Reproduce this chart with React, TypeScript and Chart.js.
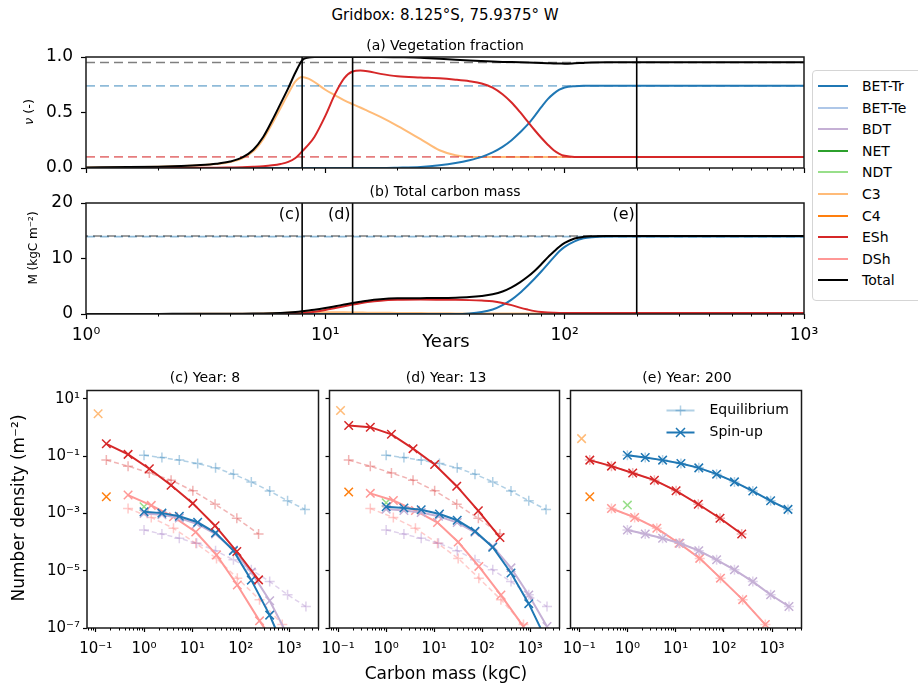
import React, { useEffect, useRef } from 'react';
import { Chart, registerables } from 'chart.js';

Chart.register(...registerables);

const FONT = "'DejaVu Sans', 'Liberation Sans', sans-serif";

// ---------------- PFT legend ----------------
const PFT_NAMES = ['BET-Tr', 'BET-Te', 'BDT', 'NET', 'NDT', 'C3', 'C4', 'ESh', 'DSh', 'Total'];
const PFT_COLORS = ['#1f77b4', '#aec7e8', '#c5b0d5', '#2ca02c', '#98df8a', '#ffbb78', '#ff7f0e', '#d62728', '#ff9896', '#000000'];
const C_BETTR = '#1f77b4';
const C_BDT = '#c5b0d5';
const C_NDT = '#98df8a';
const C_C3 = '#ffbb78';
const C_C4 = '#ff7f0e';
const C_ESH = '#d62728';
const C_DSH = '#ff9896';
const C_TOTAL = '#000000';

// ---------------- Panels (a), (b): time series ----------------
const YEARS = [1, 1.5, 2, 2.5, 3, 3.5, 4, 4.5, 5, 5.5, 6, 6.5, 7, 7.5, 8, 8.5, 9, 10, 11, 12, 13, 14, 15, 17, 20, 25, 30, 35, 40, 45, 50, 55, 60, 65, 70, 75, 80, 85, 90, 95, 100, 110, 120, 130, 150, 200, 300, 500, 1000];

const VEG_TOTAL = [0.005, 0.008, 0.012, 0.018, 0.026, 0.038, 0.058, 0.095, 0.165, 0.28, 0.43, 0.58, 0.72, 0.86, 0.97, 0.995, 1.0, 1.0, 1.0, 1.0, 1.0, 1.0, 1.0, 1.0, 0.998, 0.994, 0.985, 0.975, 0.968, 0.963, 0.959, 0.956, 0.954, 0.952, 0.95, 0.948, 0.946, 0.944, 0.942, 0.941, 0.94, 0.943, 0.947, 0.95, 0.952, 0.952, 0.952, 0.952, 0.952];
const VEG_C3 = [0.004, 0.007, 0.011, 0.017, 0.024, 0.035, 0.053, 0.088, 0.15, 0.26, 0.4, 0.54, 0.67, 0.78, 0.82, 0.805, 0.775, 0.705, 0.655, 0.61, 0.575, 0.545, 0.515, 0.46, 0.38, 0.26, 0.16, 0.115, 0.1, 0.1, 0.1, 0.1, 0.1, 0.1, 0.1, 0.1, 0.1, 0.1, 0.1, 0.1, 0.1, 0.1, 0.1, 0.1, 0.1, 0.1, 0.1, 0.1, 0.1];
const VEG_ESH = [0, 0, 0.001, 0.001, 0.002, 0.003, 0.005, 0.007, 0.011, 0.016, 0.024, 0.036, 0.055, 0.09, 0.15, 0.21, 0.28, 0.47, 0.67, 0.81, 0.87, 0.878, 0.872, 0.848, 0.826, 0.815, 0.808, 0.796, 0.782, 0.762, 0.725, 0.665, 0.59, 0.505, 0.42, 0.34, 0.27, 0.21, 0.16, 0.128, 0.11, 0.1, 0.1, 0.1, 0.1, 0.1, 0.1, 0.1, 0.1];
const VEG_BETTR = [0, 0, 0, 0, 0, 0, 0, 0, 0, 0, 0, 0, 0, 0, 0, 0, 0, 0, 0, 0, 0, 0, 0, 0, 0.003, 0.01, 0.025, 0.045, 0.07, 0.1, 0.14, 0.19, 0.25, 0.32, 0.39, 0.47, 0.55, 0.62, 0.67, 0.705, 0.725, 0.737, 0.74, 0.74, 0.74, 0.74, 0.74, 0.74, 0.74];
const EQ_VEG = [0.95, 0.74, 0.1]; // Total, BET-Tr, ESh equilibrium

const MASS_TOTAL = [0.02, 0.02, 0.02, 0.025, 0.03, 0.035, 0.04, 0.05, 0.07, 0.1, 0.14, 0.2, 0.28, 0.38, 0.5, 0.63, 0.77, 1.08, 1.4, 1.7, 1.97, 2.2, 2.4, 2.65, 2.82, 2.86, 2.88, 2.94, 3.05, 3.25, 3.55, 4.05, 4.8, 5.7, 6.7, 7.8, 9.0, 10.2, 11.2, 12.1, 12.8, 13.6, 13.9, 14.0, 14.05, 14.05, 14.05, 14.05, 14.05];
const MASS_BETTR = [0, 0, 0, 0, 0, 0, 0, 0, 0, 0, 0, 0, 0, 0, 0, 0, 0, 0, 0, 0, 0, 0, 0, 0, 0, 0, 0, 0, 0.1, 0.35, 0.8, 1.6, 2.6, 3.8, 5.1, 6.4, 7.7, 9.0, 10.2, 11.3, 12.1, 13.1, 13.65, 13.85, 13.95, 13.95, 13.95, 13.95, 13.95];
const MASS_ESH = [0, 0, 0, 0, 0, 0.002, 0.003, 0.004, 0.006, 0.009, 0.014, 0.024, 0.045, 0.085, 0.15, 0.26, 0.4, 0.72, 1.07, 1.4, 1.7, 1.95, 2.15, 2.4, 2.55, 2.6, 2.58, 2.55, 2.5, 2.42, 2.3, 2.0, 1.6, 1.15, 0.8, 0.52, 0.35, 0.26, 0.22, 0.2, 0.2, 0.2, 0.2, 0.2, 0.2, 0.2, 0.2, 0.2, 0.2];
const MASS_C3 = [0.015, 0.017, 0.019, 0.022, 0.025, 0.03, 0.035, 0.045, 0.06, 0.085, 0.12, 0.17, 0.22, 0.28, 0.32, 0.33, 0.33, 0.33, 0.32, 0.3, 0.28, 0.26, 0.24, 0.22, 0.2, 0.16, 0.12, 0.11, 0.1, 0.1, 0.1, 0.1, 0.1, 0.1, 0.1, 0.1, 0.1, 0.1, 0.1, 0.1, 0.1, 0.1, 0.1, 0.1, 0.1, 0.1, 0.1, 0.1, 0.1];
const EQ_MASS = [14.05, 13.95]; // Total, BET-Tr equilibrium

const MARK_YEARS = [8, 13, 200];
const MARK_LABELS = ['(c)', '(d)', '(e)'];

const YEAR_RANGE = [1, 1000];
const VEG_RANGE = [0, 1];
const MASSC_RANGE = [0, 20];
const YEAR_TICKS = [1, 10, 100, 1000];
const YEAR_TICK_LABELS = ['10⁰', '10¹', '10²', '10³'];
const VEG_TICKS = [0, 0.5, 1];
const VEG_TICK_LABELS = ['0.0', '0.5', '1.0'];
const MASSC_TICKS = [0, 10, 20];
const MASSC_TICK_LABELS = ['0', '10', '20'];

// ---------------- Panels (c), (d), (e): size distributions (log10 values) ----------------
const M_BETTR_LOG = [0, 0.37, 0.73, 1.11, 1.48, 1.85, 2.22, 2.6, 2.97, 3.33];
const M_BDT_LOG = [0, 0.37, 0.73, 1.09, 1.48, 1.85, 2.22, 2.6, 2.97, 3.35];
const M_ESH_LOG = [-0.78, -0.33, 0.11, 0.56, 1.01, 1.47, 1.92, 2.37];
const M_DSH_LOG = [-0.33, 0.15, 0.61, 1.07, 1.5, 1.93, 2.39, 2.86];
const M_C3_LOG = [-0.95];
const M_C4_LOG = [-0.78];
const M_NDT_LOG = [0];

const EQ_BETTR_LOG = [-0.97, -1.05, -1.14, -1.26, -1.41, -1.63, -1.9, -2.22, -2.56, -2.86];
const EQ_ESH_LOG = [-1.14, -1.35, -1.59, -1.84, -2.21, -2.68, -3.17, -3.72];
const EQ_DSH_LOG = [-2.83, -3.14, -3.52, -4.04, -4.57, -5.26, -6.01, -6.88];
const EQ_BDT_LOG = [-3.58, -3.72, -3.87, -4.04, -4.3, -4.62, -4.97, -5.38, -5.84, -6.25];

const Y8_ESH_LOG = [-0.57, -0.94, -1.44, -2.02, -2.65, -3.43, -4.33, -5.32];
const Y8_BETTR_LOG = [-2.94, -2.99, -3.1, -3.31, -3.68, -4.3, -5.33, -6.55, -8.0];
const Y8_BDT_LOG = [-3.0, -3.05, -3.16, -3.36, -3.72, -4.28, -5.05, -6.05, -7.25];
const Y8_DSH_LOG = [-2.36, -2.72, -3.12, -3.65, -4.45, -5.5, -6.75, -7.9];
const Y8_C3_LOG = [0.48];
const Y8_C4_LOG = [-2.42];
const Y8_NDT_LOG = [-2.77];

const Y13_ESH_LOG = [0.07, 0.01, -0.24, -0.74, -1.29, -2.05, -2.91, -3.84];
const Y13_BETTR_LOG = [-2.77, -2.81, -2.87, -3.02, -3.24, -3.62, -4.18, -5.08, -6.15, -7.4];
const Y13_BDT_LOG = [-2.85, -2.9, -2.97, -3.1, -3.32, -3.66, -4.15, -4.9, -5.85, -6.95];
const Y13_DSH_LOG = [-2.3, -2.55, -2.9, -3.32, -4.0, -4.85, -5.85, -6.95];
const Y13_C3_LOG = [0.59];
const Y13_C4_LOG = [-2.25];
const Y13_NDT_LOG = [-2.63];

const Y200_ESH_LOG = [-1.14, -1.35, -1.59, -1.84, -2.21, -2.68, -3.17, -3.72];
const Y200_BETTR_LOG = [-0.97, -1.05, -1.14, -1.26, -1.41, -1.63, -1.9, -2.22, -2.56, -2.86];
const Y200_BDT_LOG = [-3.58, -3.72, -3.87, -4.04, -4.3, -4.62, -4.97, -5.38, -5.84, -6.25];
const Y200_DSH_LOG = [-2.83, -3.14, -3.52, -4.04, -4.57, -5.26, -6.01, -6.88];
const Y200_C3_LOG = [-0.39];
const Y200_C4_LOG = [-2.42];
const Y200_NDT_LOG = [-2.71];

const CMASS_RANGE = [0.0661, 4074];
const DENS_RANGE = [1e-7, 19.5];
const CMASS_TICKS = [0.1, 1, 10, 100, 1000];
const CMASS_TICK_LABELS = ['10⁻¹', '10⁰', '10¹', '10²', '10³'];
const DENS_TICKS = [1e-7, 1e-5, 1e-3, 1e-1, 10];
const DENS_TICK_LABELS = ['10⁻⁷', '10⁻⁵', '10⁻³', '10⁻¹', '10¹'];

const PANEL_TITLES = ['(c) Year: 8', '(d) Year: 13', '(e) Year: 200'];
const LEGEND2_LABELS = ['Equilibrium', 'Spin-up'];

// ---------------- helpers ----------------
const rgba = (hex: string, a: number) => {
  const n = parseInt(hex.slice(1), 16);
  return `rgba(${(n >> 16) & 255},${(n >> 8) & 255},${n & 255},${a})`;
};
const pts = (xs: number[], ys: number[]) => ys.map((y, i) => ({ x: xs[i], y }));
const logPts = (xs: number[], ys: number[]) => ys.map((y, i) => ({ x: Math.pow(10, xs[i]), y: Math.pow(10, y) }));

function axisCfg(o: any) {
  return {
    type: o.type,
    min: o.min,
    max: o.max,
    bounds: 'data',
    afterBuildTicks: (s: any) => {
      s.ticks = o.ticks.map((v: number) => ({ value: v }));
    },
    afterFit: (s: any) => {
      if (o.horizontal) s.height = o.size;
      else s.width = o.size;
      s.paddingLeft = 0;
      s.paddingRight = 0;
      s.paddingTop = 0;
      s.paddingBottom = 0;
    },
    ticks: {
      display: !!o.labels,
      autoSkip: false,
      maxRotation: 0,
      minRotation: 0,
      padding: o.pad ?? 3,
      color: '#000',
      font: { family: FONT, size: o.fontSize ?? 14 },
      callback: (_v: any, i: number) => (o.labels ? o.labels[i] : ''),
    },
    grid: { display: true, drawOnChartArea: false, drawTicks: true, tickLength: o.tickLen ?? 5, tickWidth: 1.2, tickColor: '#000', color: '#000' },
    border: { display: false },
  };
}

const framePlugin = {
  id: 'frame',
  afterDraw(chart: any) {
    const { ctx, chartArea: a } = chart;
    ctx.save();
    ctx.strokeStyle = '#1a1a1a';
    ctx.lineWidth = 1.5;
    ctx.strokeRect(a.left, a.top, a.right - a.left, a.bottom - a.top);
    ctx.restore();
  },
};

const minorTicksPlugin = {
  id: 'minorTicks',
  afterDraw(chart: any) {
    const s = chart.scales.x;
    const { ctx, chartArea: a } = chart;
    ctx.save();
    ctx.strokeStyle = '#000';
    ctx.lineWidth = 1;
    const lo = Math.floor(Math.log10(s.min));
    const hi = Math.ceil(Math.log10(s.max));
    for (let e = lo; e <= hi; e++) {
      for (let k = 2; k <= 9; k++) {
        const v = k * Math.pow(10, e);
        if (v < s.min || v > s.max) continue;
        const px = Math.round(s.getPixelForValue(v)) + 0.5;
        ctx.beginPath();
        ctx.moveTo(px, a.bottom);
        ctx.lineTo(px, a.bottom + 2.5);
        ctx.stroke();
      }
    }
    ctx.restore();
  },
};

const markLabelPlugin = {
  id: 'markLabels',
  afterDraw(chart: any) {
    const { ctx, chartArea: a, scales } = chart;
    ctx.save();
    ctx.font = `16px ${FONT}`;
    ctx.fillStyle = '#000';
    ctx.textAlign = 'right';
    ctx.textBaseline = 'middle';
    MARK_YEARS.forEach((yr, i) => ctx.fillText(MARK_LABELS[i], scales.x.getPixelForValue(yr) - 2, a.top + 12));
    ctx.restore();
  },
};

const spinLegendPlugin = {
  id: 'spinLegend',
  afterDraw(chart: any) {
    const { ctx, chartArea: a } = chart;
    const rows = [
      { label: LEGEND2_LABELS[0], color: rgba(C_BETTR, 0.35), marker: 'plus', y: a.top + 20 },
      { label: LEGEND2_LABELS[1], color: C_BETTR, marker: 'x', y: a.top + 42 },
    ];
    ctx.save();
    rows.forEach((r) => {
      const x0 = a.left + 96;
      const x1 = a.left + 124;
      const xm = (x0 + x1) / 2;
      ctx.strokeStyle = r.color;
      ctx.lineWidth = 2;
      ctx.beginPath();
      ctx.moveTo(x0, r.y);
      ctx.lineTo(x1, r.y);
      ctx.stroke();
      ctx.lineWidth = 1.5;
      ctx.beginPath();
      if (r.marker === 'plus') {
        ctx.moveTo(xm - 5, r.y);
        ctx.lineTo(xm + 5, r.y);
        ctx.moveTo(xm, r.y - 5);
        ctx.lineTo(xm, r.y + 5);
      } else {
        ctx.moveTo(xm - 4.5, r.y - 4.5);
        ctx.lineTo(xm + 4.5, r.y + 4.5);
        ctx.moveTo(xm - 4.5, r.y + 4.5);
        ctx.lineTo(xm + 4.5, r.y - 4.5);
      }
      ctx.stroke();
      ctx.fillStyle = '#000';
      ctx.font = `14px ${FONT}`;
      ctx.textAlign = 'left';
      ctx.textBaseline = 'middle';
      ctx.fillText(r.label, a.left + 139, r.y);
    });
    ctx.restore();
  },
};

function makeChart(canvas: HTMLCanvasElement, datasets: any[], scales: any, padding: any, extra: any[]) {
  return new Chart(canvas, {
    type: 'line',
    data: { datasets },
    options: {
      animation: false,
      responsive: false,
      devicePixelRatio: 1,
      events: [],
      layout: { padding },
      plugins: { legend: { display: false }, tooltip: { enabled: false }, title: { display: false } },
      scales,
    } as any,
    plugins: [framePlugin, minorTicksPlugin, ...extra],
  } as any);
}

const solid = (data: any[], color: string, width = 2) => ({
  data,
  borderColor: color,
  backgroundColor: color,
  borderWidth: width,
  pointRadius: 0,
  fill: false,
  cubicInterpolationMode: 'monotone',
});
const dashed = (data: any[], color: string, offset = 0) => ({
  data,
  borderColor: color,
  backgroundColor: color,
  borderWidth: 1.6,
  borderDash: [9, 5],
  borderDashOffset: offset,
  pointRadius: 0,
  fill: false,
});
const vline = (year: number, range: number[]) => solid([{ x: year, y: range[0] }, { x: year, y: range[1] }], '#000', 1.6);

const spin = (xs: number[], ys: number[], color: string) => ({
  data: logPts(xs, ys),
  borderColor: color,
  backgroundColor: color,
  borderWidth: 2,
  pointStyle: 'crossRot',
  pointRadius: 6,
  pointBorderWidth: 1.5,
  pointBorderColor: color,
  fill: false,
  tension: 0,
});
const spinPt = (xs: number[], ys: number[], color: string) => ({ ...spin(xs, ys, color), showLine: false });
const eq = (xs: number[], ys: number[], color: string) => ({
  data: logPts(xs, ys),
  borderColor: color,
  backgroundColor: color,
  borderWidth: 1.5,
  borderDash: [5, 3],
  pointStyle: 'cross',
  pointRadius: 5,
  pointBorderWidth: 1.5,
  pointBorderColor: color,
  fill: false,
  tension: 0,
});

function bottomDatasets(s: any) {
  return [
    spin(M_ESH_LOG, s.esh, C_ESH),
    spin(M_BETTR_LOG, s.bettr, C_BETTR),
    spin(M_BDT_LOG, s.bdt, C_BDT),
    spin(M_DSH_LOG, s.dsh, C_DSH),
    spinPt(M_NDT_LOG, s.ndt, C_NDT),
    spinPt(M_C3_LOG, s.c3, C_C3),
    spinPt(M_C4_LOG, s.c4, C_C4),
    eq(M_ESH_LOG, EQ_ESH_LOG, rgba(C_ESH, 0.35)),
    eq(M_BETTR_LOG, EQ_BETTR_LOG, rgba(C_BETTR, 0.35)),
    eq(M_BDT_LOG, EQ_BDT_LOG, rgba('#9467bd', 0.3)),
    eq(M_DSH_LOG, EQ_DSH_LOG, rgba(C_DSH, 0.5)),
  ];
}

const SPIN_SETS = [
  { esh: Y8_ESH_LOG, bettr: Y8_BETTR_LOG, bdt: Y8_BDT_LOG, dsh: Y8_DSH_LOG, c3: Y8_C3_LOG, c4: Y8_C4_LOG, ndt: Y8_NDT_LOG },
  { esh: Y13_ESH_LOG, bettr: Y13_BETTR_LOG, bdt: Y13_BDT_LOG, dsh: Y13_DSH_LOG, c3: Y13_C3_LOG, c4: Y13_C4_LOG, ndt: Y13_NDT_LOG },
  { esh: Y200_ESH_LOG, bettr: Y200_BETTR_LOG, bdt: Y200_BDT_LOG, dsh: Y200_DSH_LOG, c3: Y200_C3_LOG, c4: Y200_C4_LOG, ndt: Y200_NDT_LOG },
];

// canvas boxes for the three lower panels
const BOTTOM_BOXES = [
  { left: 20, w: 306, yw: 67 },
  { left: 322, w: 245, yw: 6 },
  { left: 563, w: 246, yw: 6 },
];

function Txt({ x, y, size, rotate, children }: any) {
  return (
    <div
      style={{
        position: 'absolute',
        left: x,
        top: y,
        transform: `translate(-50%, -50%)${rotate ? ' rotate(-90deg)' : ''}`,
        fontSize: size,
        whiteSpace: 'nowrap',
        lineHeight: 1,
      }}
    >
      {children}
    </div>
  );
}

export default function App() {
  const refA = useRef<HTMLCanvasElement>(null);
  const refB = useRef<HTMLCanvasElement>(null);
  const refC = useRef<HTMLCanvasElement>(null);
  const refD = useRef<HTMLCanvasElement>(null);
  const refE = useRef<HTMLCanvasElement>(null);

  useEffect(() => {
    Chart.defaults.font.family = FONT;
    const charts: Chart[] = [];

    // (a) vegetation fraction
    charts.push(
      makeChart(
        refA.current!,
        [
          ...MARK_YEARS.map((y) => vline(y, VEG_RANGE)),
          solid(pts(YEARS, VEG_TOTAL), C_TOTAL),
          solid(pts(YEARS, VEG_ESH), C_ESH),
          solid(pts(YEARS, VEG_BETTR), C_BETTR),
          dashed(pts(YEAR_RANGE, [EQ_VEG[0], EQ_VEG[0]]), 'rgba(0,0,0,0.5)'),
          dashed(pts(YEAR_RANGE, [EQ_VEG[1], EQ_VEG[1]]), rgba(C_BETTR, 0.5)),
          dashed(pts(YEAR_RANGE, [EQ_VEG[2], EQ_VEG[2]]), rgba(C_ESH, 0.6)),
          solid(pts(YEARS, VEG_C3), C_C3),
        ],
        {
          x: axisCfg({ type: 'logarithmic', min: YEAR_RANGE[0], max: YEAR_RANGE[1], ticks: YEAR_TICKS, horizontal: true, size: 12 }),
          y: axisCfg({ type: 'linear', min: VEG_RANGE[0], max: VEG_RANGE[1], ticks: VEG_TICKS, labels: VEG_TICK_LABELS, size: 86, fontSize: 17, pad: 8 }),
        },
        { left: 0, top: 20, right: 18, bottom: 0 },
        []
      )
    );

    // (b) total carbon mass
    charts.push(
      makeChart(
        refB.current!,
        [
          ...MARK_YEARS.map((y) => vline(y, MASSC_RANGE)),
          solid(pts(YEARS, MASS_TOTAL), C_TOTAL),
          solid(pts(YEARS, MASS_ESH), C_ESH),
          solid(pts(YEARS, MASS_BETTR), C_BETTR),
          dashed(pts(YEAR_RANGE, [EQ_MASS[0], EQ_MASS[0]]), 'rgba(0,0,0,0.5)', 7),
          dashed(pts(YEAR_RANGE, [EQ_MASS[1], EQ_MASS[1]]), rgba(C_BETTR, 0.5)),
          solid(pts(YEARS, MASS_C3), C_C3),
        ],
        {
          x: axisCfg({ type: 'logarithmic', min: YEAR_RANGE[0], max: YEAR_RANGE[1], ticks: YEAR_TICKS, labels: YEAR_TICK_LABELS, horizontal: true, size: 42, fontSize: 17, pad: 6 }),
          y: axisCfg({ type: 'linear', min: MASSC_RANGE[0], max: MASSC_RANGE[1], ticks: MASSC_TICKS, labels: MASSC_TICK_LABELS, size: 86, fontSize: 17, pad: 8 }),
        },
        { left: 0, top: 17, right: 18, bottom: 0 },
        [markLabelPlugin]
      )
    );

    // (c), (d), (e) size distributions
    [refC, refD, refE].forEach((r, i) => {
      charts.push(
        makeChart(
          r.current!,
          bottomDatasets(SPIN_SETS[i]),
          {
            x: axisCfg({ type: 'logarithmic', min: CMASS_RANGE[0], max: CMASS_RANGE[1], ticks: CMASS_TICKS, labels: CMASS_TICK_LABELS, horizontal: true, size: 45, fontSize: 15, pad: 8, tickLen: 4 }),
            y: axisCfg({ type: 'logarithmic', min: DENS_RANGE[0], max: DENS_RANGE[1], ticks: DENS_TICKS, labels: i === 0 ? DENS_TICK_LABELS : null, size: BOTTOM_BOXES[i].yw, fontSize: 15, pad: 3, tickLen: 4 }),
          },
          { left: 0, top: 7, right: 3, bottom: 0 },
          i === 2 ? [spinLegendPlugin] : []
        )
      );
    });

    return () => charts.forEach((c) => c.destroy());
  }, []);

  const cv = (left: number, top: number, w: number, h: number) => ({ position: 'absolute' as const, left, top, width: w, height: h });

  return (
    <div
      style={{
        position: 'absolute',
        left: 0,
        top: 0,
        width: 918,
        height: 685,
        background: '#fff',
        overflow: 'hidden',
        fontFamily: FONT,
        color: '#000',
      }}
    >
      <canvas ref={refA} width={822} height={143} style={cv(0, 37, 822, 143)} />
      <canvas ref={refB} width={822} height={170} style={cv(0, 186, 822, 170)} />
      {[refC, refD, refE].map((r, i) => (
        <canvas key={i} ref={r} width={BOTTOM_BOXES[i].w} height={290} style={cv(BOTTOM_BOXES[i].left, 383, BOTTOM_BOXES[i].w, 290)} />
      ))}

      <Txt x={445} y={15} size={15}>Gridbox: 8.125°S, 75.9375° W</Txt>
      <Txt x={445} y={45} size={14}>(a) Vegetation fraction</Txt>
      <Txt x={445} y={191} size={14}>(b) Total carbon mass</Txt>
      <Txt x={28} y={112} size={13} rotate>
        <i>ν</i> (-)
      </Txt>
      <Txt x={33} y={248} size={12} rotate>
        M (kgC m⁻²)
      </Txt>
      <Txt x={446} y={341} size={18}>Years</Txt>
      <Txt x={205} y={377} size={14}>{PANEL_TITLES[0]}</Txt>
      <Txt x={446} y={377} size={14}>{PANEL_TITLES[1]}</Txt>
      <Txt x={687} y={377} size={14}>{PANEL_TITLES[2]}</Txt>
      <Txt x={18} y={508} size={17} rotate>
        Number density (m⁻²)
      </Txt>
      <Txt x={446} y={673} size={17}>Carbon mass (kgC)</Txt>

      <div
        style={{
          position: 'absolute',
          left: 812,
          top: 70,
          width: 120,
          height: 229,
          border: '1px solid #d5d5d5',
          borderRadius: 4,
          background: '#fff',
        }}
      >
        {PFT_NAMES.map((n, i) => (
          <React.Fragment key={n}>
            <div style={{ position: 'absolute', left: 5, top: 15 + i * 21.6 - 1, width: 30, height: 2, background: PFT_COLORS[i] }} />
            <div style={{ position: 'absolute', left: 49, top: 15 + i * 21.6, transform: 'translateY(-50%)', fontSize: 14, lineHeight: 1 }}>{n}</div>
          </React.Fragment>
        ))}
      </div>
    </div>
  );
}
